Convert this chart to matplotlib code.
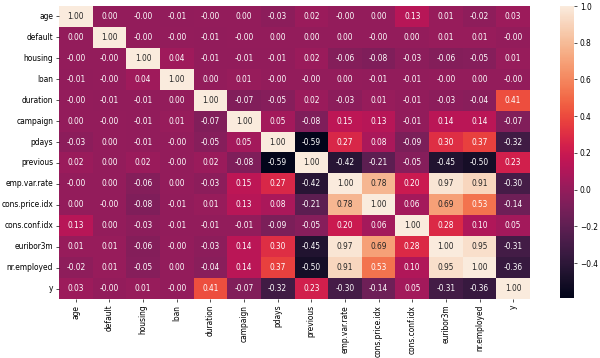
import numpy as np
import matplotlib
matplotlib.use("Agg")
import matplotlib.pyplot as plt
import seaborn as sns

cols = ["age", "default", "housing", "loan", "duration", "campaign", "pdays",
        "previous", "emp.var.rate", "cons.price.idx", "cons.conf.idx",
        "euribor3m", "nr.employed", "y"]

# correlation values; -0.001 stands for a printed "-0.00"
z = -0.001
corr = np.array([
    [1.00, 0.00, z, -0.01, z, 0.00, -0.03, 0.02, z, 0.00, 0.13, 0.01, -0.02, 0.03],
    [0.00, 1.00, z, z, -0.01, z, 0.00, 0.00, 0.00, z, 0.00, 0.01, 0.01, z],
    [z, z, 1.00, 0.04, -0.01, -0.01, -0.01, 0.02, -0.06, -0.08, -0.03, -0.06, -0.05, 0.01],
    [-0.01, z, 0.04, 1.00, 0.00, 0.01, z, z, 0.00, -0.01, -0.01, z, 0.00, z],
    [z, -0.01, -0.01, 0.00, 1.00, -0.07, -0.05, 0.02, -0.03, 0.01, -0.01, -0.03, -0.04, 0.41],
    [0.00, z, -0.01, 0.01, -0.07, 1.00, 0.05, -0.08, 0.15, 0.13, -0.01, 0.14, 0.14, -0.07],
    [-0.03, 0.00, -0.01, z, -0.05, 0.05, 1.00, -0.59, 0.27, 0.08, -0.09, 0.30, 0.37, -0.32],
    [0.02, 0.00, 0.02, z, 0.02, -0.08, -0.59, 1.00, -0.42, -0.21, -0.05, -0.45, -0.50, 0.23],
    [z, 0.00, -0.06, 0.00, -0.03, 0.15, 0.27, -0.42, 1.00, 0.78, 0.20, 0.97, 0.91, -0.30],
    [0.00, z, -0.08, -0.01, 0.01, 0.13, 0.08, -0.21, 0.78, 1.00, 0.06, 0.69, 0.53, -0.14],
    [0.13, 0.00, -0.03, -0.01, -0.01, -0.01, -0.09, -0.05, 0.20, 0.06, 1.00, 0.28, 0.10, 0.05],
    [0.01, 0.01, -0.06, z, -0.03, 0.14, 0.30, -0.45, 0.97, 0.69, 0.28, 1.00, 0.95, -0.31],
    [-0.02, 0.01, -0.05, 0.00, -0.04, 0.14, 0.37, -0.50, 0.91, 0.53, 0.10, 0.95, 1.00, -0.36],
    [0.03, z, 0.01, z, 0.41, -0.07, -0.32, 0.23, -0.30, -0.14, 0.05, -0.31, -0.36, 1.00],
])

fig = plt.figure(figsize=(10, 5.9667), dpi=60)
ax = fig.add_axes([59/600, 1-299/358, 471/600, 293/358])
cax = fig.add_axes([560/600, 1-298/358, 14/600, 292/358])

sns.heatmap(corr, annot=True, fmt=".2f", xticklabels=cols, yticklabels=cols,
            ax=ax, cbar_ax=cax, annot_kws={"size": 9})
ax.tick_params(labelsize=9)
cax.tick_params(labelsize=9)
plt.setp(ax.get_xticklabels(), rotation=90)
plt.setp(ax.get_yticklabels(), rotation=0)

fig.savefig("out.png", dpi=60)
